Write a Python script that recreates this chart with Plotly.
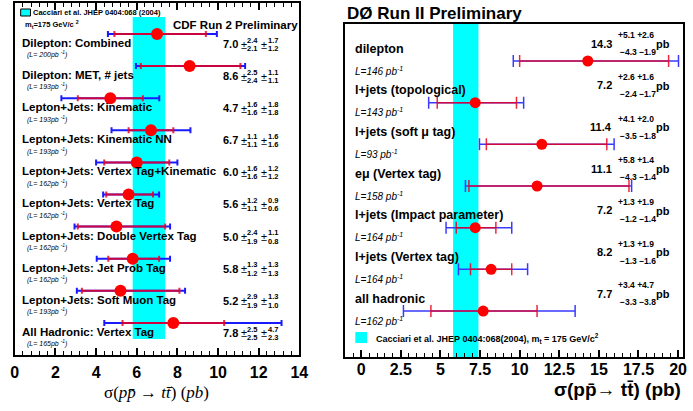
import math
import plotly.graph_objects as go

W, H = 693, 411

# ---------------- data ----------------
theory_band = [5.8, 7.4]  # Cacciari et al. prediction band (pb)

cdf_labels = ["Dilepton: Combined", "Dilepton: MET, # jets", "Lepton+Jets: Kinematic",
              "Lepton+Jets: Kinematic NN", "Lepton+Jets: Vertex Tag+Kinematic",
              "Lepton+Jets: Vertex Tag", "Lepton+Jets: Double Vertex Tag",
              "Lepton+Jets: Jet Prob Tag", "Lepton+Jets: Soft Muon Tag",
              "All Hadronic: Vertex Tag"]
cdf_lumi = [200, 193, 193, 193, 162, 162, 162, 162, 193, 165]
cdf_val = [7.0, 8.6, 4.7, 6.7, 6.0, 5.6, 5.0, 5.8, 5.2, 7.8]
cdf_stat_up = [2.4, 2.5, 1.6, 1.1, 1.6, 1.2, 2.4, 1.3, 2.9, 2.5]
cdf_stat_dn = [2.1, 2.4, 1.6, 1.1, 1.6, 1.1, 1.9, 1.2, 1.9, 2.5]
cdf_syst_up = [1.7, 1.1, 1.8, 1.6, 1.2, 0.9, 1.1, 1.3, 1.3, 4.7]
cdf_syst_dn = [1.2, 1.1, 1.8, 1.6, 1.2, 0.6, 0.8, 1.3, 1.0, 2.3]
cdf_ticks = [0, 2, 4, 6, 8, 10, 12, 14]

d0_labels = ["dilepton", "l+jets (topological)", "l+jets (soft \u03bc tag)", "e\u03bc (Vertex tag)",
             "l+jets (Impact parameter)", "l+jets (Vertex tag)", "all hadronic"]
d0_lumi = [146, 143, 93, 158, 164, 164, 162]
d0_val = [14.3, 7.2, 11.4, 11.1, 7.2, 8.2, 7.7]
d0_stat_up = [5.1, 2.6, 4.1, 5.8, 1.3, 1.3, 3.4]
d0_stat_dn = [4.3, 2.4, 3.5, 4.3, 1.2, 1.3, 3.3]
d0_syst_up = [2.6, 1.6, 2.0, 1.4, 1.9, 1.9, 4.7]
d0_syst_dn = [1.9, 1.7, 1.8, 1.4, 1.4, 1.6, 3.8]
d0_ticks = [0, 2.5, 5, 7.5, 10, 12.5, 15, 17.5, 20]
d0_ticktext = ["0", "2.5", "5", "7.5", "10", "12.5", "15", "17.5", "20"]

# --------------- helpers ---------------
def px(x):
    return x / W

def py(y):
    return 1 - y / H

def quad(a, b):
    return [math.sqrt(u * u + v * v) for u, v in zip(a, b)]

FONT = "Liberation Sans"
RED = "#ff0000"
STAT = "rgba(235,0,30,0.85)"
BLUE = "#1a1aff"
CYAN = "#00ffff"

cdf_y = list(range(len(cdf_val)))
d0_y = list(range(len(d0_val)))

fig = go.Figure()

# CDF: total (blue) then stat (red) then point
fig.add_trace(go.Scatter(x=cdf_val, y=cdf_y, mode="markers", marker=dict(size=1, opacity=0),
                         error_x=dict(type="data", symmetric=False,
                                      array=quad(cdf_stat_up, cdf_syst_up),
                                      arrayminus=quad(cdf_stat_dn, cdf_syst_dn),
                                      color=BLUE, thickness=2, width=3),
                         xaxis="x", yaxis="y", showlegend=False, hoverinfo="skip"))
fig.add_trace(go.Scatter(x=cdf_val, y=cdf_y, mode="markers", marker=dict(size=12, color=RED),
                         error_x=dict(type="data", symmetric=False, array=cdf_stat_up,
                                      arrayminus=cdf_stat_dn, color=STAT, thickness=2, width=3),
                         xaxis="x", yaxis="y", showlegend=False))

# D0
fig.add_trace(go.Scatter(x=d0_val, y=d0_y, mode="markers", marker=dict(size=1, opacity=0),
                         error_x=dict(type="data", symmetric=False,
                                      array=quad(d0_stat_up, d0_syst_up),
                                      arrayminus=quad(d0_stat_dn, d0_syst_dn),
                                      color="#3a3aff", thickness=1.5, width=6),
                         xaxis="x2", yaxis="y2", showlegend=False, hoverinfo="skip"))
fig.add_trace(go.Scatter(x=d0_val, y=d0_y, mode="markers", marker=dict(size=11, color=RED),
                         error_x=dict(type="data", symmetric=False, array=d0_stat_up,
                                      arrayminus=d0_stat_dn, color=STAT, thickness=1.5, width=6),
                         xaxis="x2", yaxis="y2", showlegend=False))

# pixel layout of panels
L_X0, L_X1, L_Y0, L_Y1 = 11, 301, 3, 355
R_X0, R_X1, R_Y0, R_Y1 = 348, 692, 24, 357
cdf_first, cdf_step = 34.0, 32.1
d0_first, d0_step = 61.0, 41.67

shapes = [
    dict(type="rect", xref="x", yref="y", x0=theory_band[0], x1=theory_band[1],
         y0=(17 - cdf_first) / cdf_step, y1=(339 - cdf_first) / cdf_step,
         fillcolor=CYAN, line=dict(width=0), layer="below"),
    dict(type="rect", xref="x2", yref="y2 domain", x0=theory_band[0], x1=theory_band[1],
         y0=0, y1=1, fillcolor=CYAN, line=dict(width=0), layer="below"),
    # legend boxes
    dict(type="rect", xref="paper", yref="paper", x0=px(17), x1=px(27), y0=py(16), y1=py(9),
         fillcolor=CYAN, line=dict(width=1, color="black")),
    dict(type="rect", xref="paper", yref="paper", x0=px(358), x1=px(370), y0=py(343), y1=py(332),
         fillcolor=CYAN, line=dict(width=0)),
]

ann = []

def A(text, x, y, size, xanchor="left", yref="paper", bold=True, italic=False, family=FONT,
      color="black", yanchor="middle"):
    ann.append(dict(text=text, x=x, y=y, xref="paper", yref=yref, xanchor=xanchor,
                    yanchor=yanchor, showarrow=False,
                    font=dict(family=family, size=size, color=color,
                              weight="bold" if bold else "normal",
                              style="italic" if italic else "normal")))

# CDF texts
A("Cacciari et al. JHEP 0404:068 (2004)", px(28), py(13), 7.5)
A("m<sub>t</sub>=175 GeV/c <sup>2</sup>", px(19), py(24), 7.5)
A("CDF Run 2 Preliminary", px(170), py(25), 11.5)
for i, lab in enumerate(cdf_labels):
    A(lab, px(16), i + 0.28, 11.5, yref="y")
    A("(L= %dpb <sup>-1</sup>)" % cdf_lumi[i], px(21), i + 0.65, 7, yref="y", bold=False, italic=True)
    A("%.1f" % cdf_val[i], px(221), i + 0.31, 11, yref="y")
    A("\u00b1", px(239), i + 0.33, 11, yref="y", bold=False)
    A("%.1f" % cdf_stat_up[i], px(246), i + 0.19, 7.5, yref="y")
    A("%.1f" % cdf_stat_dn[i], px(246), i + 0.45, 7.5, yref="y")
    A("\u00b1", px(260), i + 0.33, 11, yref="y", bold=False)
    A("%.1f" % cdf_syst_up[i], px(267), i + 0.19, 7.5, yref="y")
    A("%.1f" % cdf_syst_dn[i], px(267), i + 0.45, 7.5, yref="y")

# D0 texts
A("D\u00d8 Run II Preliminary", px(348), py(14), 17)
for i, lab in enumerate(d0_labels):
    A(lab, px(356), i - 0.30, 12.5, yref="y2")
    A("L=%d pb<sup>-1</sup>" % d0_lumi[i], px(356), i + 0.23, 10, yref="y2", bold=False, italic=True)
    A("%.1f" % d0_val[i], px(622), i - 0.42, 11, xanchor="right", yref="y2")
    A("+%.1f +%.1f" % (d0_stat_up[i], d0_syst_up[i]), px(624), i - 0.62, 8.5, yref="y2")
    A("\u2212%.1f \u2212%.1f" % (d0_stat_dn[i], d0_syst_dn[i]), px(626), i - 0.21, 8.5, yref="y2")
    A("pb", px(662), i - 0.41, 11, yref="y2")
A("Cacciari et al. JHEP 0404:068(2004), m<sub>t</sub> = 175 GeV/c<sup>2</sup>", px(377), py(338), 9)

# axis titles
A("\u03c3(<i>pp\u0304</i> \u2192 <i>tt\u0304</i>) (<i>pb</i>)", px(155), py(392), 17, xanchor="center",
  bold=False, family="Liberation Serif")
A("\u03c3(pp\u0304\u2192 tt\u0304) (pb)", px(692), py(389), 19, xanchor="right")

axis_common = dict(showgrid=False, zeroline=False, showline=True, linecolor="black", linewidth=2,
                   ticks="inside", tickcolor="black", tickwidth=1.5, ticklen=7,
                   tickfont=dict(family=FONT, size=16, color="black", weight="bold"))

fig.update_layout(
    width=W, height=H, margin=dict(l=0, r=0, t=0, b=0),
    paper_bgcolor="white", plot_bgcolor="white",
    showlegend=False,
    xaxis=dict(domain=[px(L_X0), px(L_X1)], range=[0, 14], tickmode="array", tickvals=cdf_ticks,
               mirror="allticks", anchor="y",
               minor=dict(ticks="inside", ticklen=4, dtick=0.4, tickcolor="black", tickwidth=1),
               ticklabelstandoff=2, **axis_common),
    yaxis=dict(domain=[py(L_Y1), py(L_Y0)], range=[(L_Y1 - cdf_first) / cdf_step,
                                                   (L_Y0 - cdf_first) / cdf_step],
               showgrid=False, zeroline=False, showticklabels=False, showline=True,
               mirror=True, linecolor="black", linewidth=2, anchor="x"),
    xaxis2=dict(domain=[px(R_X0), px(R_X1)], range=[(R_X0 - 364) / 16.15, (R_X1 - 364) / 16.15],
                tickmode="array", tickvals=d0_ticks, ticktext=d0_ticktext, mirror=True, anchor="y2",
                minor=dict(ticks="inside", ticklen=4, dtick=0.5, tickcolor="black", tickwidth=1),
                ticklabelstandoff=-3, **axis_common),
    yaxis2=dict(domain=[py(R_Y1), py(R_Y0)], range=[(R_Y1 - d0_first) / d0_step,
                                                    (R_Y0 - d0_first) / d0_step],
                showgrid=False, zeroline=False, showticklabels=False, showline=True,
                mirror=True, linecolor="black", linewidth=2, anchor="x2"),
    shapes=shapes, annotations=ann,
)

fig.write_html("out.html", config={"displayModeBar": False},
               post_script="document.body.style.margin='0';document.body.style.padding='0';"
                           "document.body.style.overflow='hidden';")
